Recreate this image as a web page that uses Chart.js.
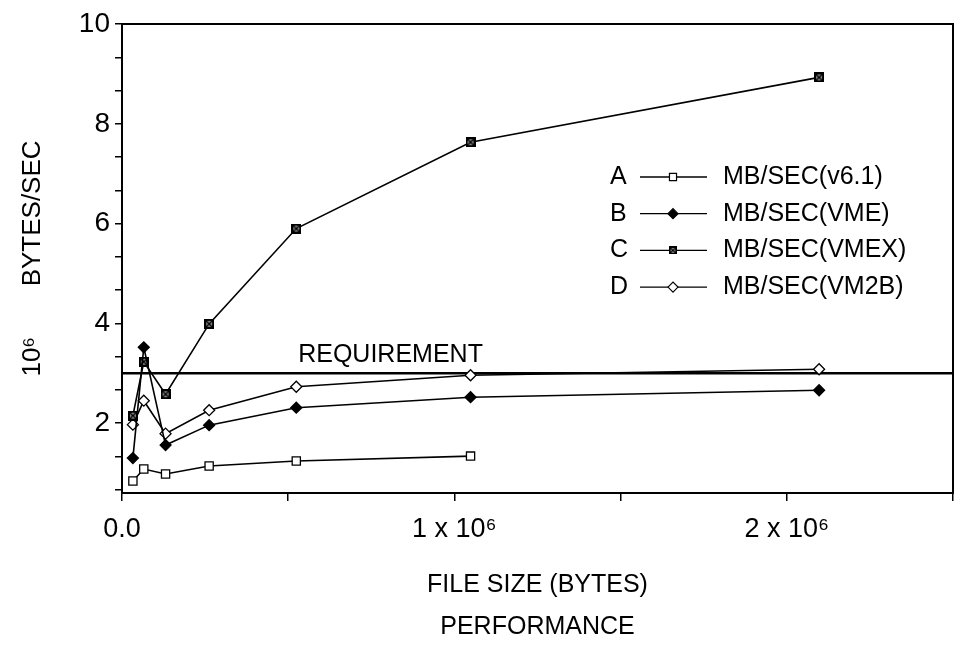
<!DOCTYPE html>
<html>
<head>
<meta charset="utf-8">
<title>Performance</title>
<script src="https://cdn.jsdelivr.net/npm/chart.js@4/dist/chart.umd.min.js"></script>
<style>
  html, body { margin: 0; padding: 0; background: #fff; }
  #wrap { width: 965px; height: 650px; }
</style>
</head>
<body>
<div id="wrap"><canvas id="chart" width="965" height="650"></canvas></div>
<script>
// file sizes tested (bytes)
const fileSizes = [32768, 65536, 131072, 262144, 524288, 1048576, 2097152];

// transfer rate, in 10^6 bytes/sec
const rateV61  = [0.84, 1.08, 0.98, 1.14, 1.24, 1.34];
const rateVME  = [1.30, 3.52, 1.56, 1.96, 2.31, 2.52, 2.66];
const rateVMEX = [2.15, 3.23, 2.58, 3.99, 5.90, 7.63, 8.93];
const rateVM2B = [1.97, 2.45, 1.79, 2.26, 2.73, 2.96, 3.08];

const seriesKeys = ["A", "B", "C", "D"];
const seriesNames = ["MB/SEC(v6.1)", "MB/SEC(VME)", "MB/SEC(VMEX)", "MB/SEC(VM2B)"];

const requirement = 3.0;
const requirementLabel = "REQUIREMENT";

const xTickLabels = { 0: "0.0", 1000000: "1 x 10⁶", 2000000: "2 x 10⁶" };
const yTickLabels = [2, 4, 6, 8, 10];

const FONT = "'Liberation Sans', Arial, sans-serif";
Chart.defaults.font.family = FONT;
Chart.defaults.color = "#000";

function points(xs, ys) {
  return ys.map((y, i) => ({ x: xs[i], y: y }));
}

// square with an X through it, for the VMEX series
function crossedSquare(size) {
  const c = document.createElement("canvas");
  c.width = size;
  c.height = size;
  const g = c.getContext("2d");
  g.fillStyle = "#000";
  g.fillRect(0, 0, size, size);
  g.fillStyle = "#8a8a8a";
  g.fillRect(2, 2, size - 4, size - 4);
  g.strokeStyle = "#000";
  g.lineWidth = 1.3;
  g.beginPath();
  g.moveTo(2, 2); g.lineTo(size - 2, size - 2);
  g.moveTo(size - 2, 2); g.lineTo(2, size - 2);
  g.stroke();
  return c;
}
const vmexMark = crossedSquare(10);

function series(label, data, style, fill, radius) {
  return {
    label: label,
    data: data,
    borderColor: "#000",
    borderWidth: 1.6,
    pointStyle: style,
    pointRadius: radius,
    pointBackgroundColor: fill,
    pointBorderColor: "#000",
    pointBorderWidth: 1.3,
    tension: 0,
    fill: false
  };
}

function drawMarker(ctx, style, fill, x, y, r) {
  ctx.save();
  ctx.lineWidth = 1.2;
  ctx.strokeStyle = "#000";
  ctx.fillStyle = fill;
  if (style instanceof HTMLCanvasElement) {
    ctx.drawImage(style, x - 4, y - 4, 8, 8);
  } else {
    ctx.beginPath();
    if (style === "rect") {
      const s = r * Math.SQRT1_2;
      ctx.rect(x - s, y - s, 2 * s, 2 * s);
    } else {
      ctx.moveTo(x - r, y); ctx.lineTo(x, y - r);
      ctx.lineTo(x + r, y); ctx.lineTo(x, y + r);
      ctx.closePath();
    }
    ctx.fill();
    ctx.stroke();
  }
  ctx.restore();
}

// letter + sample line + name, drawn inside the plot like the original
const keyLegend = {
  id: "keyLegend",
  afterDatasetsDraw(chart) {
    const { ctx, chartArea } = chart;
    const x0 = chartArea.left + 488;
    const y0 = chartArea.top + 153;
    ctx.save();
    ctx.font = "25px " + FONT;
    ctx.fillStyle = "#000";
    ctx.textBaseline = "middle";
    ctx.textAlign = "left";
    seriesKeys.forEach((key, i) => {
      const ds = chart.data.datasets[i];
      const y = y0 + i * 36.7;
      ctx.fillText(key, x0, y);
      ctx.beginPath();
      ctx.moveTo(x0 + 30, y);
      ctx.lineTo(x0 + 97, y);
      ctx.lineWidth = 1.3;
      ctx.strokeStyle = "#000";
      ctx.stroke();
      drawMarker(ctx, ds.pointStyle, ds.pointBackgroundColor, x0 + 63, y, 5);
      ctx.fillStyle = "#000";
      ctx.fillText(ds.label, x0 + 113, y);
    });
    ctx.restore();
  }
};

const frameAndNote = {
  id: "frameAndNote",
  afterDraw(chart) {
    const { ctx, chartArea, scales } = chart;
    ctx.save();
    ctx.strokeStyle = "#000";
    ctx.lineWidth = 2;
    ctx.strokeRect(chartArea.left, chartArea.top,
      chartArea.right - chartArea.left, chartArea.bottom - chartArea.top);
    ctx.font = "25px " + FONT;
    ctx.fillStyle = "#000";
    ctx.textAlign = "left";
    ctx.textBaseline = "alphabetic";
    ctx.fillText(requirementLabel, scales.x.getPixelForValue(530000), scales.y.getPixelForValue(requirement + 0.22));
    ctx.restore();
  }
};

new Chart(document.getElementById("chart").getContext("2d"), {
  type: "line",
  data: {
    datasets: [
      series(seriesNames[0], points(fileSizes, rateV61), "rect", "#fff", 5.8),
      series(seriesNames[1], points(fileSizes, rateVME), "rectRot", "#000", 5.5),
      series(seriesNames[2], points(fileSizes, rateVMEX), vmexMark, "#555", 5),
      series(seriesNames[3], points(fileSizes, rateVM2B), "rectRot", "#fff", 5.5),
      {
        label: requirementLabel,
        data: [{ x: 0, y: requirement }, { x: 2500000, y: requirement }],
        borderColor: "#000",
        borderWidth: 2.5,
        pointRadius: 0
      }
    ]
  },
  options: {
    responsive: false,
    animation: false,
    devicePixelRatio: 1,
    layout: { padding: { top: 24, right: 4, left: 0, bottom: 0 } },
    scales: {
      x: {
        type: "linear",
        min: 0,
        max: 2500000,
        afterFit: s => { s.height = 157; },
        ticks: {
          stepSize: 500000,
          autoSkip: false,
          maxRotation: 0,
          minRotation: 0,
          padding: 12,
          font: { size: 27 },
          callback: v => xTickLabels[v] || ""
        },
        grid: { drawOnChartArea: false, tickLength: 8, color: "#000", lineWidth: 1.5 },
        border: { display: true, color: "#000", width: 2 },
        title: {
          display: true,
          text: ["FILE SIZE (BYTES)", "PERFORMANCE"],
          font: { size: 25, lineHeight: 1.68 },
          padding: { top: 0, bottom: 2 }
        }
      },
      y: {
        type: "linear",
        min: 0.6,
        max: 10,
        afterFit: s => { s.width = 122; },
        afterBuildTicks: axis => {
          const t = [];
          for (let v = 10; v > 0.6 + 1e-9; v -= 2 / 3) t.push({ value: v });
          axis.ticks = t.reverse();
        },
        ticks: {
          autoSkip: false,
          padding: 5,
          font: { size: 28 },
          callback: v => {
            const hit = yTickLabels.find(l => Math.abs(l - v) < 1e-6);
            return hit === undefined ? "" : String(hit);
          }
        },
        grid: { drawOnChartArea: false, tickLength: 7, color: "#000", lineWidth: 1.5 },
        border: { display: true, color: "#000", width: 2 },
        title: {
          display: true,
          text: "10⁶       BYTES/SEC",
          font: { size: 26 },
          padding: { top: 17, bottom: 0 }
        }
      }
    },
    plugins: {
      legend: { display: false },
      tooltip: { enabled: false }
    }
  },
  plugins: [keyLegend, frameAndNote]
});
</script>
</body>
</html>
